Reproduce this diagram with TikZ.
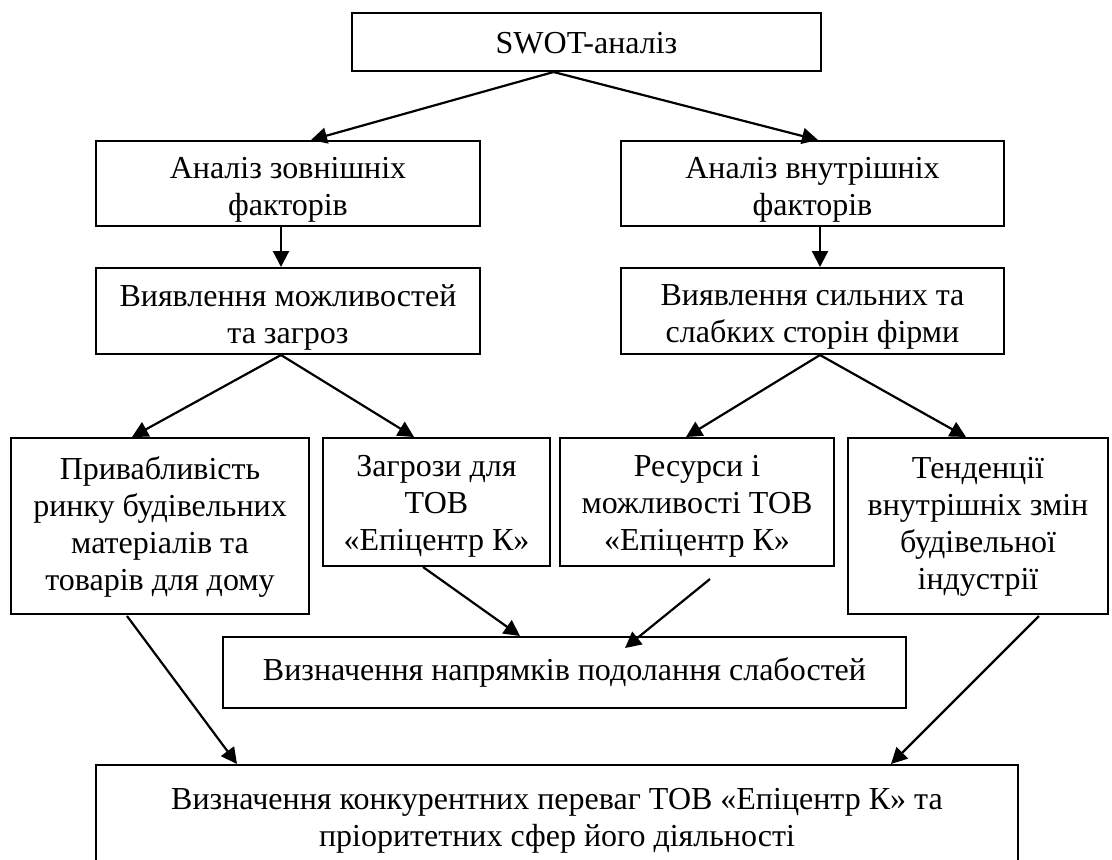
\documentclass[tikz,border=0pt]{standalone}
\usepackage{fontspec}
\setmainfont{Liberation Serif}
\usetikzlibrary{arrows.meta,calc}
\begin{document}
\begin{tikzpicture}[x=0.5pt,y=-0.5pt,
  box/.style={draw=black,line width=1pt,rectangle,inner sep=0pt},
  txt/.style={align=center,inner sep=0pt,font=\fontsize{16pt}{18.5pt}\selectfont},
  arr/.style={line width=1.1pt,-{Triangle[length=8pt,width=8pt]}}]
\useasboundingbox (0,0) rectangle (1112,859);
\clip (0,0) rectangle (1112,859);
% boxes
\node[box,minimum width=234.5pt,minimum height=29pt] (swot) at (586.5,42) {};
\node[box,minimum width=192pt,minimum height=42.5pt] (a1) at (288,183.5) {};
\node[box,minimum width=191.5pt,minimum height=42.5pt] (a2) at (812.5,183.5) {};
\node[box,minimum width=192pt,minimum height=43pt] (b1) at (288,311) {};
\node[box,minimum width=191.5pt,minimum height=43pt] (b2) at (812.5,311) {};
\node[box,minimum width=149pt,minimum height=88pt] (c1) at (160,526) {};
\node[box,minimum width=113.5pt,minimum height=64pt] (c2) at (436.5,502) {};
\node[box,minimum width=137pt,minimum height=64pt] (c3) at (697,502) {};
\node[box,minimum width=130pt,minimum height=88pt] (c4) at (978,526) {};
\node[box,minimum width=341.5pt,minimum height=35.5pt] (d) at (564.5,672.5) {};
\node[box,minimum width=461pt,minimum height=67.5pt] (e) at (557,832.5) {};
% texts
\node[txt] (swott) at (586.5,43) {SWOT-аналіз};
\node[txt] (a1t) at (288,190) {Аналіз зовнішніх\\факторів};
\node[txt] (a2t) at (812.5,190) {Аналіз внутрішніх\\факторів};
\node[txt] (b1t) at (288,317) {Виявлення можливостей\\та загроз};
\node[txt] (b2t) at (812.5,317) {Виявлення сильних та\\слабких сторін фірми};
\node[txt] (c1t) at (160,527) {Привабливість\\ринку будівельних\\матеріалів та\\товарів для дому};
\node[txt] (c2t) at (436.5,506) {Загрози для\\ТОВ\\«Епіцентр К»};
\node[txt] (c3t) at (697,506) {Ресурси і\\можливості ТОВ\\«Епіцентр К»};
\node[txt] (c4t) at (978,527) {Тенденції\\внутрішніх змін\\будівельної\\індустрії};
\node[txt] (dt) at (564.5,672) {Визначення напрямків подолання слабостей};
\node[txt] (et) at (557,821) {Визначення конкурентних переваг ТОВ «Епіцентр К» та\\пріоритетних сфер його діяльності};
% connectors
\draw[arr] ($(swot.south)+(-33,0)$) -- ($(a1.north)+(23,0)$);
\draw[arr] ($(swot.south)+(-33,0)$) -- ($(a2.north)+(5.5,0)$);
\draw[arr] ($(a1.south)+(-7,0)$) -- ($(b1.north)+(-7,0)$);
\draw[arr] ($(a2.south)+(7.5,0)$) -- ($(b2.north)+(7.5,0)$);
\draw[arr] ($(b1.south)+(-7,0)$) -- ($(c1.north)+(-28,0)$);
\draw[arr] ($(b1.south)+(-7,0)$) -- ($(c2.north)+(-22.5,0)$);
\draw[arr] ($(b2.south)+(7.5,0)$) -- ($(c3.north)+(-11,0)$);
\draw[arr] ($(b2.south)+(7.5,0)$) -- ($(c4.north)+(-12,0)$);
\draw[arr] ($(c2.south)+(-13.5,0)$) -- ($(d.north)+(-44.5,0)$);
\draw[arr] ($(c3.south)+(13,12)$) -- ($(d.north)+(60.5,12)$);
\draw[arr] ($(c1.south)+(-33,1)$) -- ($(e.north)+(-320,0)$);
\draw[arr] ($(c4.south)+(61,1)$) -- ($(e.north)+(334,0)$);
\end{tikzpicture}
\end{document}
